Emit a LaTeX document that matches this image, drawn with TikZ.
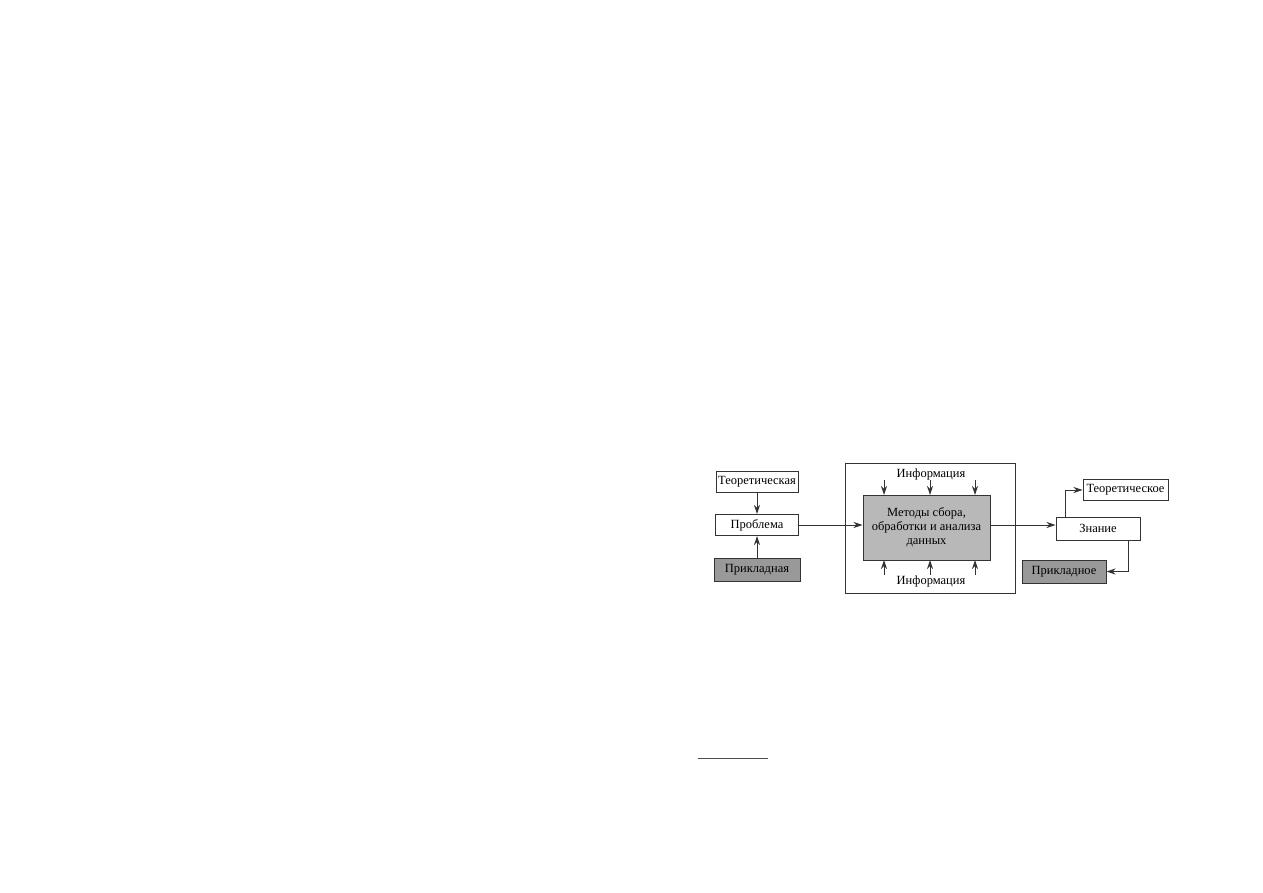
\documentclass[tikz,border=0pt]{standalone}
\usepackage{fontspec}
\setmainfont{Liberation Serif}
\usetikzlibrary{positioning, arrows.meta, calc}

\tikzset{
    box/.style={draw=black!80, line width=1pt, minimum height=21pt, inner sep=2pt, font=\fontsize{12.5}{14}\selectfont},
    darkbox/.style={box, fill=black!40},
    arr/.style={draw=black!80, line width=1pt, -{Stealth[length=9pt,width=6pt]}}
}

\begin{document}
\begin{tikzpicture}[x=1pt, y=-1pt]
        \useasboundingbox (0,0) rectangle (1263,893);

        % left part
        \node[box, minimum width=82pt] (theor) at (757,482) {Теоретическая};
        \node[box, minimum width=83pt] (problem) at (757,525) {Проблема};
        \node[darkbox, minimum width=86pt, minimum height=23pt] (applied) at (757,569.5) {Прикладная};

        \draw[arr] (theor) -- (problem);
        \draw[arr] (applied) -- (problem);

        % frame with methods
        \draw[draw=black!80, line width=1pt] (845,463) rectangle (1015,593);
        \node[box, fill=black!28, minimum width=127pt, minimum height=65pt, align=center] (methods) at (926.5,527.5)
            {Методы сбора,\\обработки и анализа\\данных};
        \node[font=\fontsize{12.5}{14}\selectfont] (infotop) at (931,474) {Информация};
        \node[font=\fontsize{12.5}{14}\selectfont] (infobot) at (931,581) {Информация};

        \foreach \x in {884,930,975}
        {
            \coordinate (top\x) at (\x,480);
            \coordinate (bot\x) at (\x,575);
            \draw[arr] (top\x) -- (\x,495);
            \draw[arr] (bot\x) -- (\x,560);
        }

        \draw[arr] (problem.east) -- (methods.west |- problem.east);

        % right part
        \node[box, minimum width=84pt, minimum height=23pt] (know) at (1098,528.5) {Знание};
        \node[box, minimum width=85pt] (theorknow) at (1125.5,490) {Теоретическое};
        \node[darkbox, minimum width=84pt, minimum height=23pt] (appliedknow) at (1064,571.5) {Прикладное};

        \draw[arr] (methods.east |- problem.east) -- (know.west |- problem.east);
        \draw[arr] (know.north -| 1065,0) |- (theorknow.west);
        \draw[arr] (know.south -| 1128,0) |- (appliedknow.east);

        % footnote rule
        \draw[black!70, line width=1pt] (698,758) -- (768,758);
\end{tikzpicture}
\end{document}
